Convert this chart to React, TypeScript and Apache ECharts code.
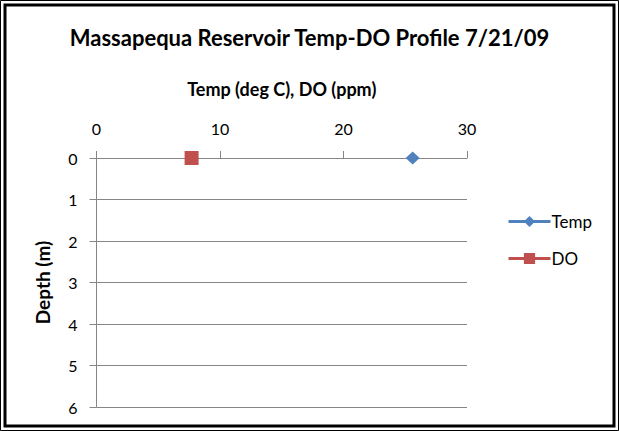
import React, { useEffect, useRef } from "react";
import * as echarts from "echarts";

const titleText = "Massapequa Reservoir Temp-DO Profile 7/21/09";
const xAxisName = "Temp (deg C), DO (ppm)";
const yAxisName = "Depth (m)";
const seriesNames = ["Temp", "DO"];
const tempPoints: [number, number][] = [[25.6, 0]];
const doPoints: [number, number][] = [[7.7, 0]];
const xRange = [0, 30, 10];
const yRange = [0, 6, 1];

const FONT = "Lato";
const AXIS_GRAY = "#868686";

export default function App() {
  const ref = useRef<HTMLDivElement>(null);
  useEffect(() => {
    if (!ref.current) return;
    const chart = echarts.init(ref.current, null, { renderer: "svg" });
    chart.setOption({
      animation: false,
      backgroundColor: "#ffffff",
      textStyle: { fontFamily: FONT },
      title: {
        text: titleText,
        left: "center",
        top: 21,
        textStyle: { fontFamily: FONT, fontSize: 22, fontWeight: "bold", color: "#000" },
      },
      graphic: [
        { type: "rect", shape: { x: 0.5, y: 0.5, width: 618, height: 430 }, style: { fill: "none", stroke: "#000", lineWidth: 1 } },
        { type: "rect", shape: { x: 5, y: 5, width: 609, height: 421 }, style: { fill: "none", stroke: "#000", lineWidth: 3 } },
      ],
      legend: {
        orient: "vertical",
        left: 502,
        top: 208,
        itemWidth: 42,
        itemHeight: 14,
        itemGap: 20,
        data: seriesNames,
        lineStyle: { width: 3 },
        textStyle: { fontFamily: FONT, fontSize: 17, color: "#000", padding: [0, 0, 0, -4] },
      },
      grid: { left: 96.5, right: 152, top: 158, bottom: 24, containLabel: false },
      xAxis: {
        type: "value",
        position: "top",
        min: xRange[0],
        max: xRange[1],
        interval: xRange[2],
        name: xAxisName,
        nameLocation: "middle",
        nameGap: 60,
        nameTextStyle: { fontFamily: FONT, fontSize: 18, fontWeight: "bold", color: "#000" },
        axisLine: { show: true, lineStyle: { color: AXIS_GRAY, width: 1 } },
        axisTick: { show: true, length: 7, lineStyle: { color: AXIS_GRAY } },
        axisLabel: { margin: 22, fontFamily: FONT, fontSize: 16, color: "#000" },
        splitLine: { show: false },
      },
      yAxis: {
        type: "value",
        inverse: true,
        min: yRange[0],
        max: yRange[1],
        interval: yRange[2],
        name: yAxisName,
        nameLocation: "middle",
        nameGap: 45,
        nameTextStyle: { fontFamily: FONT, fontSize: 19, fontWeight: "bold", color: "#000" },
        axisLine: { show: true, lineStyle: { color: AXIS_GRAY, width: 1 } },
        axisTick: { show: true, length: 7, lineStyle: { color: AXIS_GRAY } },
        axisLabel: { margin: 19, fontFamily: FONT, fontSize: 16, color: "#000" },
        splitLine: { show: true, lineStyle: { color: AXIS_GRAY, width: 1 } },
      },
      series: [
        {
          name: seriesNames[0],
          type: "line",
          data: tempPoints,
          symbol: "diamond",
          symbolSize: [14, 13],
          itemStyle: { color: "#4F81BD" },
          lineStyle: { color: "#4F81BD", width: 3 },
        },
        {
          name: seriesNames[1],
          type: "line",
          data: doPoints,
          symbol: "rect",
          symbolSize: 14,
          itemStyle: { color: "#C0504D" },
          lineStyle: { color: "#C0504D", width: 3 },
        },
      ],
    });
    return () => chart.dispose();
  }, []);
  return <div ref={ref} style={{ position: "absolute", left: 0, top: 0, width: 619, height: 431 }} />;
}
